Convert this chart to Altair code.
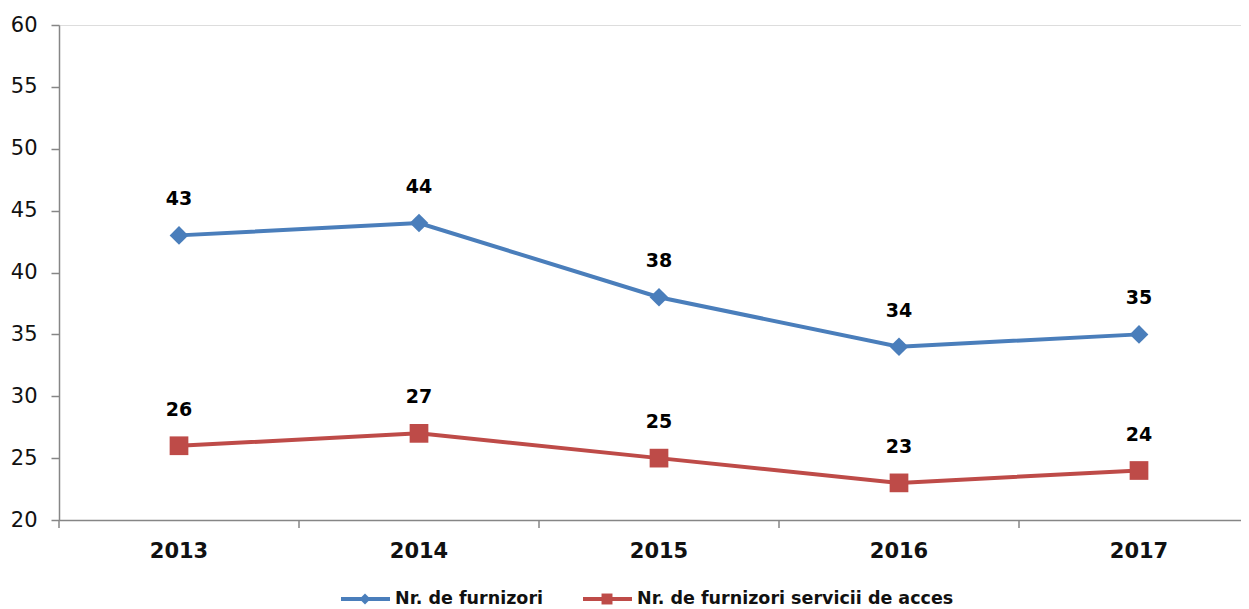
import altair as alt
import pandas as pd

years = ["2013", "2014", "2015", "2016", "2017"]
furnizori = [43, 44, 38, 34, 35]
acces = [26, 27, 25, 23, 24]
series_names = ["Nr. de furnizori", "Nr. de furnizori servicii de acces"]
colors = ["#4A7EBB", "#BE4B48"]
shapes = ["diamond", "square"]
y_ticks = [20, 25, 30, 35, 40, 45, 50, 55, 60]

rows = []
for name, vals in zip(series_names, [furnizori, acces]):
    for yr, v in zip(years, vals):
        rows.append({"year": yr, "value": v, "series": name})
df = pd.DataFrame(rows)

FONT = "DejaVu Sans"
AXIS_GRAY = "#868686"

xscale = alt.Scale(type="band", domain=years, range=[0, 1200], paddingInner=0, paddingOuter=0)
yscale = alt.Scale(domain=[20, 60], nice=False, zero=False)
cscale = alt.Scale(domain=series_names, range=colors)
sscale = alt.Scale(domain=series_names, range=shapes)

X = alt.X("year:N", scale=xscale, axis=alt.Axis(
    title=None, ticks=False, domainColor=AXIS_GRAY, domainWidth=1.5,
    labelFont=FONT, labelFontSize=21, labelFontWeight="bold", labelColor="#111",
    labelPadding=20, labelAngle=0))
Y = alt.Y("value:Q", scale=yscale, axis=alt.Axis(
    title=None, values=y_ticks, grid=False, domainColor=AXIS_GRAY, domainWidth=1.5,
    tickColor=AXIS_GRAY, tickSize=8, tickWidth=1.5,
    labelFont=FONT, labelFontSize=21, labelColor="#111", labelPadding=14))

base = alt.Chart(df)

lines = base.mark_line(strokeWidth=4).encode(
    x=X, y=Y, color=alt.Color("series:N", scale=cscale, legend=None), detail="series:N")

points = base.mark_point(filled=True, opacity=1).encode(
    x=alt.X("year:N", scale=xscale),
    y=alt.Y("value:Q", scale=yscale),
    color=alt.Color("series:N", scale=cscale, legend=None),
    shape=alt.Shape("series:N", scale=sscale, legend=None),
    size=alt.value(350))

labels = base.mark_text(dy=-36, font=FONT, fontSize=19, fontWeight="bold", color="#000").encode(
    x=alt.X("year:N", scale=xscale),
    y=alt.Y("value:Q", scale=yscale),
    text="value:Q")

xticks = alt.Chart(pd.DataFrame({"year": years})).mark_rule(color=AXIS_GRAY, strokeWidth=1.5).encode(
    x=alt.X("year:N", scale=xscale, bandPosition=0),
    y=alt.value(495), y2=alt.value(503))

legend_layers = []
legend_x = [282, 524]
LEG_Y = 574
for name, col, shp, lx in zip(series_names, colors, shapes, legend_x):
    ld = alt.Chart(pd.DataFrame({"label": [name]}))
    legend_layers.append(ld.mark_rule(strokeWidth=4, color=col).encode(
        x=alt.value(lx), x2=alt.value(lx + 49), y=alt.value(LEG_Y)))
    legend_layers.append(ld.mark_point(filled=True, opacity=1, color=col, shape=shp).encode(
        x=alt.value(lx + 24), y=alt.value(LEG_Y), size=alt.value(120)))
    legend_layers.append(ld.mark_text(align="left", baseline="middle", font=FONT, fontSize=17.5,
                                      fontWeight="bold", color="#111").encode(
        x=alt.value(lx + 54), y=alt.value(LEG_Y), text="label:N"))

chart = alt.layer(lines, points, labels, xticks, *legend_layers).properties(
    width=1182, height=495,
    autosize=alt.AutoSizeParams(type="none"),
    padding={"left": 51, "top": 17, "right": 0, "bottom": 89},
).configure_view(stroke=None).configure(background="white")

chart.save("out.html", embed_options={"renderer": "svg", "actions": False})
